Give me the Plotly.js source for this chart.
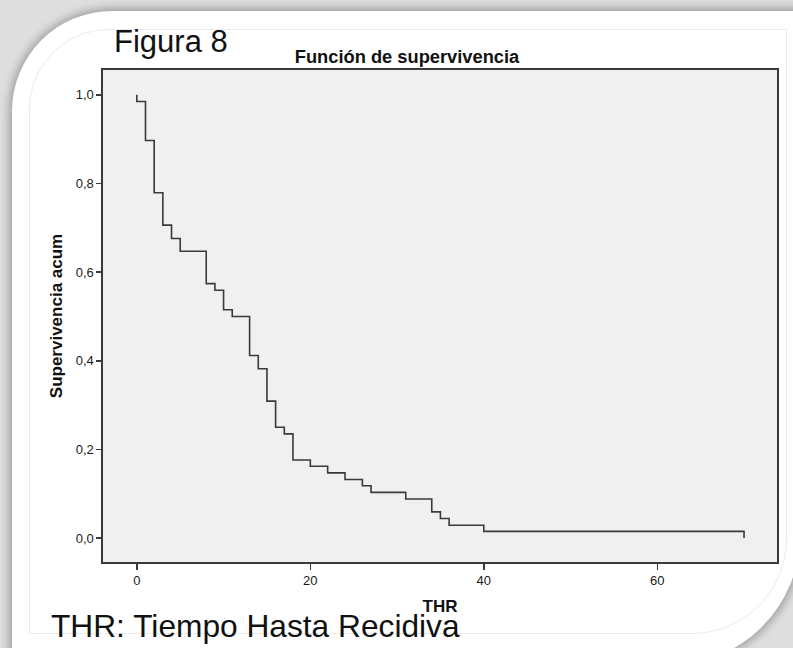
<!DOCTYPE html>
<html>
<head>
<meta charset="utf-8">
<script src="https://cdn.plot.ly/plotly-3.0.1.min.js"></script>
<style>
  html, body { margin: 0; padding: 0; }
  body { width: 793px; height: 648px; overflow: hidden; position: relative; background: #dedede; }
  #card { position: absolute; left: 12px; top: 11px; width: 788px; height: 654px;
          background: #ffffff; border-radius: 100px 0 130px 0;
          box-shadow: 0 0 9px 3px rgba(0,0,0,0.28); }
  #inner { position: absolute; left: 29px; top: 29px; width: 756px; height: 603px;
           border: 1px solid #ebebeb; border-radius: 80px 0 95px 0; }
  #chart { position: absolute; left: 0; top: 0; width: 793px; height: 648px; }
</style>
</head>
<body>
<div id="card"></div>
<div id="inner"></div>
<div id="chart"></div>
<script>
// Kaplan-Meier step data (time of event, survival after the event)
const times = [0, 0, 1, 2, 3, 4, 5, 8, 9, 10, 11, 13, 14, 15, 16, 17, 18, 20, 22, 24, 26, 27, 31, 34, 35, 36, 40, 70];
const survival = [1.0, 0.985, 0.897, 0.779, 0.706, 0.676, 0.647, 0.574, 0.559, 0.515, 0.500, 0.412, 0.382, 0.309, 0.250, 0.235, 0.176, 0.162, 0.147, 0.132, 0.118, 0.103, 0.088, 0.059, 0.044, 0.029, 0.015, 0.0];
const yTickVals = [0, 0.2, 0.4, 0.6, 0.8, 1.0];
const yTickText = ['0,0', '0,2', '0,4', '0,6', '0,8', '1,0'];
const xTickVals = [0, 20, 40, 60];
const xTickText = ['0', '20', '40', '60'];

const W = 793, H = 648;
const L = 103, R = 777, T = 70, B = 562;
const px = x => (x - L) / (R - L);
const py = y => (B - y) / (B - T);
const FONT = 'Liberation Sans, Arial, sans-serif';

const trace = {
  x: times, y: survival, type: 'scatter', mode: 'lines',
  line: { shape: 'hv', color: '#3a3a3a', width: 1.6 },
  hoverinfo: 'skip'
};

const layout = {
  width: W, height: H,
  margin: { l: L, r: W - R, t: T, b: H - B, pad: 0 },
  paper_bgcolor: 'rgba(0,0,0,0)',
  plot_bgcolor: '#f0f0f0',
  showlegend: false,
  font: { family: FONT, color: '#111' },
  title: {
    text: '<b>Función de supervivencia</b>',
    font: { family: FONT, size: 18.3, color: '#111' },
    xref: 'container', yref: 'container',
    x: 407 / W, y: 1 - 57 / H, xanchor: 'center', yanchor: 'middle'
  },
  xaxis: {
    range: [-3.9, 73.8], showgrid: false, zeroline: false,
    showline: true, mirror: true, linecolor: '#3a3a3a', linewidth: 1.6,
    ticks: 'outside', ticklen: 6, tickwidth: 1.5, tickcolor: '#3a3a3a',
    tickvals: xTickVals, ticktext: xTickText,
    tickfont: { family: FONT, size: 13, color: '#1a1a1a' },
    title: { text: '<b>THR</b>', font: { family: FONT, size: 17, color: '#111' }, standoff: 13 }
  },
  yaxis: {
    range: [-0.054, 1.056], showgrid: false, zeroline: false,
    showline: true, mirror: true, linecolor: '#3a3a3a', linewidth: 1.6,
    ticks: 'outside', ticklen: 5, tickwidth: 1.5, tickcolor: '#3a3a3a',
    tickvals: yTickVals, ticktext: yTickText,
    tickfont: { family: FONT, size: 13, color: '#1a1a1a' },
    title: { text: '<b>Supervivencia acum</b>', font: { family: FONT, size: 17, color: '#111' }, standoff: 9 }
  },
  annotations: [
    { text: 'Figura 8', xref: 'paper', yref: 'paper', x: px(112), y: py(41),
      xanchor: 'left', yanchor: 'middle', showarrow: false,
      font: { family: FONT, size: 31, color: '#111' } },
    { text: 'THR: Tiempo Hasta Recidiva', xref: 'paper', yref: 'paper', x: px(49), y: py(626),
      xanchor: 'left', yanchor: 'middle', showarrow: false,
      font: { family: FONT, size: 31.7, color: '#111' } }
  ]
};

Plotly.newPlot('chart', [trace], layout, { displayModeBar: false, staticPlot: true });
</script>
</body>
</html>
